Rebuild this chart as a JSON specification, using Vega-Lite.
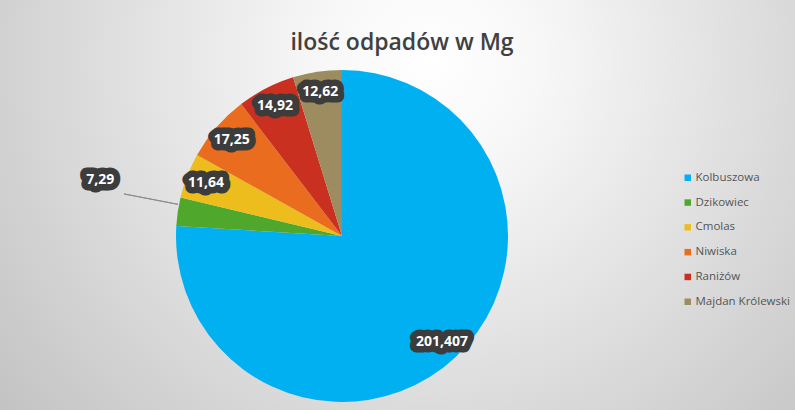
{
  "$schema": "https://vega.github.io/schema/vega-lite/v6.json",
  "autosize": {"type": "none"},
  "width": 906,
  "height": 472,
  "padding": {"left": -111, "top": 0, "right": 0, "bottom": -62},
  "background": "#d0d0d0",
  "view": {
    "stroke": null,
    "fill": {
      "gradient": "radial",
      "x1": 0.597, "y1": 0.306, "r1": 0,
      "x2": 0.597, "y2": 0.306, "r2": 0.62,
      "stops": [
        {"offset": 0, "color": "#ffffff"},
        {"offset": 0.2, "color": "#f7f7f7"},
        {"offset": 1, "color": "#c2c2c2"}
      ]
    }
  },
  "title": {
    "text": "ilość odpadów w Mg",
    "anchor": "middle",
    "frame": "group",
    "offset": -91,
    "baseline": "alphabetic",
    "dx": 60,
    "font": "Open Sans",
    "fontSize": 23,
    "fontWeight": 600,
    "color": "#404040"
  },
  "data": {
    "values": [
      {"name": "Kolbuszowa", "value": 201.407, "idx": 1},
      {"name": "Dzikowiec", "value": 7.29, "idx": 2},
      {"name": "Cmolas", "value": 11.64, "idx": 3},
      {"name": "Niwiska", "value": 17.25, "idx": 4},
      {"name": "Raniżów", "value": 14.92, "idx": 5},
      {"name": "Majdan Królewski", "value": 12.62, "idx": 6}
    ]
  },
  "layer": [
    {
      "mark": {"type": "arc", "radius": 166},
      "encoding": {
        "theta": {"field": "value", "type": "quantitative", "stack": true},
        "order": {"field": "idx", "type": "quantitative"},
        "color": {
          "field": "name",
          "type": "nominal",
          "scale": {
            "domain": ["Kolbuszowa", "Dzikowiec", "Cmolas", "Niwiska", "Raniżów", "Majdan Królewski"],
            "range": ["#00b0f0", "#4fa82c", "#ecbd1c", "#ea6c1e", "#c9301f", "#9c8c5f"]
          },
          "legend": {
            "orient": "none",
            "legendX": 793,
            "legendY": 172,
            "title": null,
            "symbolType": "square",
            "symbolSize": 42,
            "symbolStrokeWidth": 0,
            "labelFont": "Open Sans",
            "labelFontSize": 11.5,
            "labelColor": "#555555",
            "labelOffset": 2,
            "rowPadding": 11.8,
            "padding": 0
          }
        }
      }
    },
    {
      "mark": {
        "type": "arc",
        "radius": 222,
        "radius2": 167,
        "padAngle": 0.6,
        "fillOpacity": 0,
        "stroke": "#8c8c8c",
        "strokeWidth": 1,
        "thetaOffset": 0.0436,
        "theta2Offset": 0.0436
      },
      "encoding": {
        "theta": {"field": "value", "type": "quantitative", "stack": true},
        "order": {"field": "idx", "type": "quantitative"},
        "strokeOpacity": {"condition": {"test": "datum.name === 'Dzikowiec'", "value": 1}, "value": 0}
      }
    },
    {
      "mark": {
        "type": "text", "radius": 146, "align": "center", "baseline": "middle",
        "font": "Open Sans", "fontSize": 14, "fontWeight": "bold",
        "fill": "#3c3c3c", "stroke": "#3c3c3c", "strokeWidth": 13, "strokeJoin": "round"
      },
      "encoding": {
        "theta": {"field": "value", "type": "quantitative", "stack": true},
        "order": {"field": "idx", "type": "quantitative"},
        "text": {"field": "value", "type": "quantitative", "format": ".6~g"},
        "opacity": {"condition": {"test": "datum.name === 'Dzikowiec'", "value": 0}, "value": 1}
      }
    },
    {
      "mark": {
        "type": "text", "radius": 146, "align": "center", "baseline": "middle",
        "font": "Open Sans", "fontSize": 14, "fontWeight": "bold", "fill": "#ffffff"
      },
      "encoding": {
        "theta": {"field": "value", "type": "quantitative", "stack": true},
        "order": {"field": "idx", "type": "quantitative"},
        "text": {"field": "value", "type": "quantitative", "format": ".6~g"},
        "opacity": {"condition": {"test": "datum.name === 'Dzikowiec'", "value": 0}, "value": 1}
      }
    },
    {
      "mark": {
        "type": "text", "radius": 248, "thetaOffset": 0.079, "align": "center", "baseline": "middle",
        "font": "Open Sans", "fontSize": 14, "fontWeight": "bold",
        "fill": "#3c3c3c", "stroke": "#3c3c3c", "strokeWidth": 13, "strokeJoin": "round"
      },
      "encoding": {
        "theta": {"field": "value", "type": "quantitative", "stack": true},
        "order": {"field": "idx", "type": "quantitative"},
        "text": {"field": "value", "type": "quantitative", "format": ".6~g"},
        "opacity": {"condition": {"test": "datum.name === 'Dzikowiec'", "value": 1}, "value": 0}
      }
    },
    {
      "mark": {
        "type": "text", "radius": 248, "thetaOffset": 0.079, "align": "center", "baseline": "middle",
        "font": "Open Sans", "fontSize": 14, "fontWeight": "bold", "fill": "#ffffff"
      },
      "encoding": {
        "theta": {"field": "value", "type": "quantitative", "stack": true},
        "order": {"field": "idx", "type": "quantitative"},
        "text": {"field": "value", "type": "quantitative", "format": ".6~g"},
        "opacity": {"condition": {"test": "datum.name === 'Dzikowiec'", "value": 1}, "value": 0}
      }
    }
  ],
  "config": {
    "locale": {
      "number": {"decimal": ",", "thousands": " ", "grouping": [3], "currency": ["", " zł"]}
    }
  }
}
